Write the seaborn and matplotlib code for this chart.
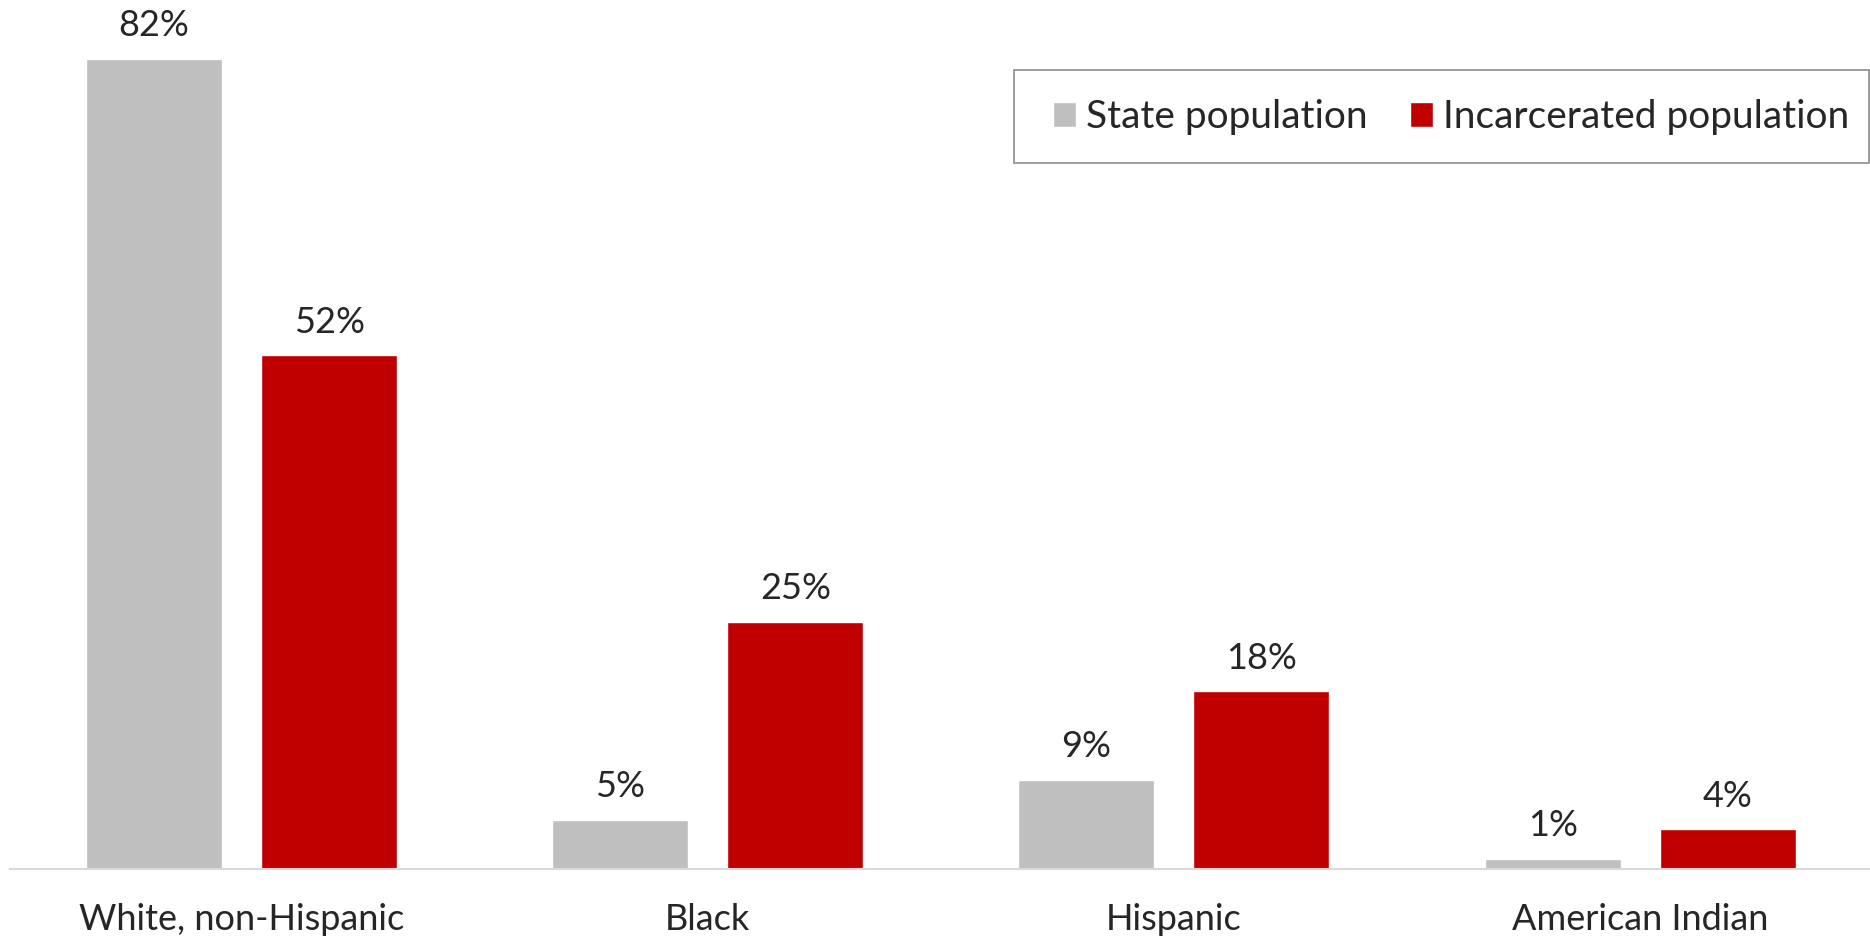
import pandas as pd
import matplotlib.pyplot as plt
import seaborn as sns
from matplotlib.patches import Rectangle

categories = ['White, non-Hispanic', 'Black', 'Hispanic', 'American Indian']
state_pop = [82, 5, 9, 1]
incarcerated_pop = [52, 25, 18, 4]
series = ['State population', 'Incarcerated population']
colors = ['#bfbfbf', '#c00000']

df = pd.DataFrame({
    'group': categories * 2,
    'value': state_pop + incarcerated_pop,
    'series': [series[0]] * len(categories) + [series[1]] * len(categories),
})

sns.set_style('white')
plt.rcParams['font.family'] = ['Lato', 'DejaVu Sans']

fig = plt.figure(figsize=(18.7, 9.38), dpi=100)
ax = fig.add_axes([10 / 1870, 69 / 938, 1860 / 1870, 869 / 938])

sns.barplot(data=df, x='group', y='value', hue='series', palette=colors,
            width=0.751, gap=0.223, ax=ax, saturation=1)

for c in ax.containers:
    ax.bar_label(c, labels=[f'{v:.0f}%' for v in c.datavalues],
                 padding=12, fontsize=26)

ax.set_ylim(0, 87.97)
ax.set_xlim(-0.4966, 3.493)
ax.set_xlabel('')
ax.set_ylabel('')
ax.set_yticks([])
for s in ['top', 'left', 'right']:
    ax.spines[s].set_visible(False)
ax.spines['bottom'].set_color('#d9d9d9')
ax.spines['bottom'].set_linewidth(1.5)
ax.tick_params(axis='x', length=0, pad=24.5, labelsize=26)

# legend without its own frame; box drawn separately to match reference padding
ax.legend(loc='center', bbox_to_anchor=(1451 / 1870, 1 - 117 / 938),
          bbox_transform=fig.transFigure, ncol=2, fontsize=28,
          frameon=False, handlelength=0.59, handleheight=0.59,
          handletextpad=0.26, columnspacing=1.08, borderpad=0, title=None)
fig.patches.append(Rectangle((1014 / 1870, 1 - 163 / 938), 855 / 1870, 93 / 938,
                             transform=fig.transFigure, fill=False,
                             edgecolor='#8c8c8c', linewidth=1.2))

plt.savefig('out.png', dpi=100)
